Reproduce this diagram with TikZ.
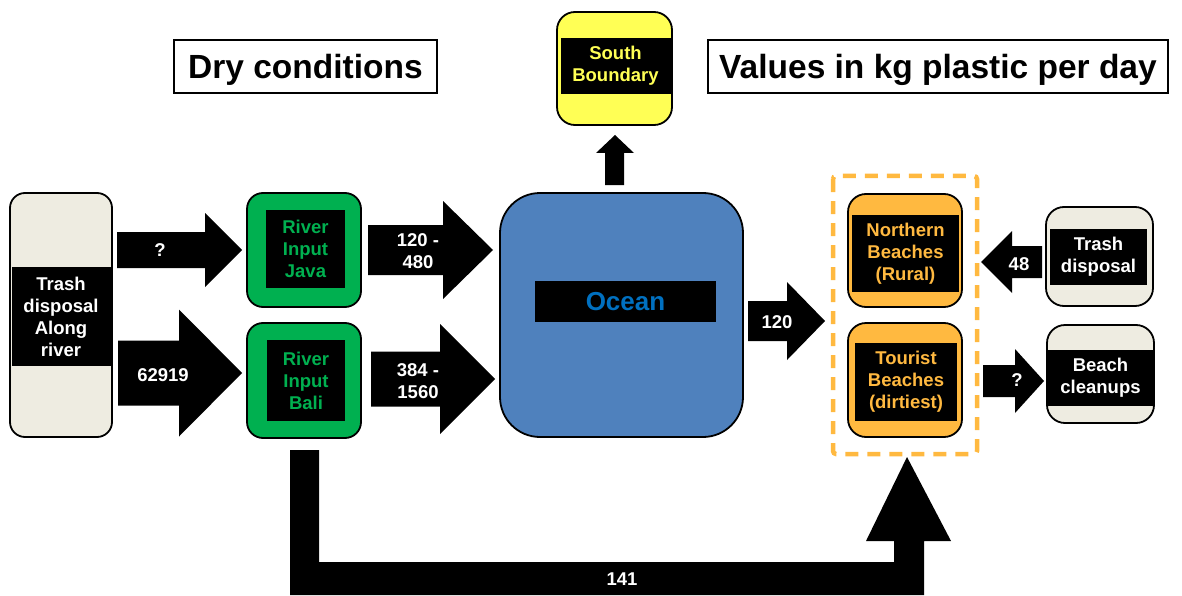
\documentclass[tikz,border=0pt]{standalone}
\usepackage{fontspec}
\setmainfont{Liberation Sans}
\definecolor{beige}{HTML}{EEECE1}
\definecolor{grn}{HTML}{00B050}
\definecolor{oceanblue}{HTML}{4F81BD}
\definecolor{oceantext}{HTML}{0070C0}
\definecolor{yel}{HTML}{FFFF55}
\definecolor{org}{HTML}{FFB940}
\newcommand\rarr[6]{\fill[black] (#1,#4-#5) -- (#2,#4-#5) -- (#2,#4-#6) -- (#3,#4) -- (#2,#4+#6) -- (#2,#4+#5) -- (#1,#4+#5) -- cycle;}
\begin{document}
\begin{tikzpicture}[x=1pt,y=-1pt,
  box/.style={draw=black, line width=1.8pt, rounded corners=16pt, inner sep=0pt},
  band/.style={fill=black, inner sep=0pt, align=center, font=\fontsize{18.5}{22}\selectfont\bfseries},
  lbl/.style={text=white, inner sep=0pt, align=center, font=\fontsize{18.5}{22.5}\selectfont\bfseries},
  title/.style={draw=black, line width=1.3pt, inner sep=0pt, text depth=0pt, font=\fontsize{33.5}{38}\selectfont\bfseries}]
\useasboundingbox (0,0) rectangle (1182,596);
% titles
\node[title, minimum width=263pt, minimum height=53pt] (dry) at (305.5,66.5) {Dry conditions};
\node[title, minimum width=460pt, minimum height=53pt] (values) at (938,66.5) {Values in kg plastic per day};
% left trash
\node[box, fill=beige, rounded corners=15pt, minimum width=102pt, minimum height=244pt] (trashL) at (61,315) {};
\node[band, text=white, minimum width=99pt, minimum height=99pt] (trashLb) at (61,316.5) {Trash\\disposal\\Along\\river};
% river inputs
\node[box, fill=grn, minimum width=114pt, minimum height=114pt] (java) at (304,250) {};
\node[band, text=grn, minimum width=79pt, minimum height=78pt] (javab) at (305.5,249) {River\\Input\\Java};
\node[box, fill=grn, minimum width=114pt, minimum height=115pt] (bali) at (304,380.5) {};
\node[band, text=grn, minimum width=78pt, minimum height=81pt] (balib) at (306,380.5) {River\\Input\\Bali};
% ocean
\node[box, fill=oceanblue, rounded corners=40pt, minimum width=243pt, minimum height=244pt] (ocean) at (621.5,315) {};
\node[band, text=oceantext, font=\fontsize{26}{30}\selectfont\bfseries, minimum width=181pt, minimum height=41pt] (oceanb) at (625.5,301.5) {Ocean};
% south boundary
\node[box, fill=yel, rounded corners=18pt, minimum width=115pt, minimum height=113pt] (south) at (614.5,68.5) {};
\node[band, text=yel, minimum width=110pt, minimum height=56pt] (southb) at (615.5,66) {South\\Boundary};
% beaches
\draw[org, line width=4.5pt, dash pattern=on 13pt off 9pt, rounded corners=3pt] (833,176) rectangle (977,454);
\node[box, fill=org, rounded corners=18pt, minimum width=114pt, minimum height=113pt] (north) at (905,250.5) {};
\node[band, text=org, minimum width=107pt, minimum height=77pt] (northb) at (905.5,253.5) {Northern\\Beaches\\(Rural)};
\node[box, fill=org, rounded corners=18pt, minimum width=114pt, minimum height=114pt] (tourist) at (905,380) {};
\node[band, text=org, minimum width=102pt, minimum height=78pt] (touristb) at (906,382) {Tourist\\Beaches\\(dirtiest)};
% right boxes
\node[box, fill=beige, rounded corners=18pt, minimum width=107pt, minimum height=99pt] (trashR) at (1099.5,256.5) {};
\node[band, text=white, minimum width=97pt, minimum height=56pt] (trashRb) at (1098.5,257) {Trash\\disposal};
\node[box, fill=beige, rounded corners=18pt, minimum width=107pt, minimum height=98pt] (clean) at (1100.5,374) {};
\node[band, text=white, minimum width=105pt, minimum height=56pt] (cleanb) at (1100.5,378) {Beach\\cleanups};
% block arrows
\rarr{117}{205}{242}{250}{18}{37}
\node[lbl] (lq1) at (160,250) {?};
\rarr{118}{179}{242}{373}{32.5}{63.5}
\node[lbl] (l62919) at (163,375) {62919};
\rarr{368}{443}{493}{250}{25}{49}
\node[lbl] (l120a) at (418,251) {120 -\\480};
\rarr{371}{440}{495}{379}{27.5}{55}
\node[lbl] (l384) at (418,381) {384 -\\1560};
\rarr{748}{787}{825}{321}{20}{39}
\node[lbl] (l120b) at (777,322) {120};
\rarr{1042}{1012}{981}{262}{16}{31}
\node[lbl] (l48) at (1019,264) {48};
\rarr{983}{1015}{1044}{381}{16}{32}
\node[lbl] (lq2) at (1017,380) {?};
% up arrow to south boundary
\fill[black] (605,185) -- (605,153) -- (596,153) -- (615,135) -- (634,153) -- (624,153) -- (624,185) -- cycle;
% bottom L arrow
\fill[black] (290,450) -- (319,450) -- (319,562) -- (894,562) -- (894,541) -- (866,541) -- (907,457) -- (951,541) -- (924,541) -- (924,595) -- (290,595) -- cycle;
\node[lbl] (l141) at (622,579) {141};
\end{tikzpicture}
\end{document}
